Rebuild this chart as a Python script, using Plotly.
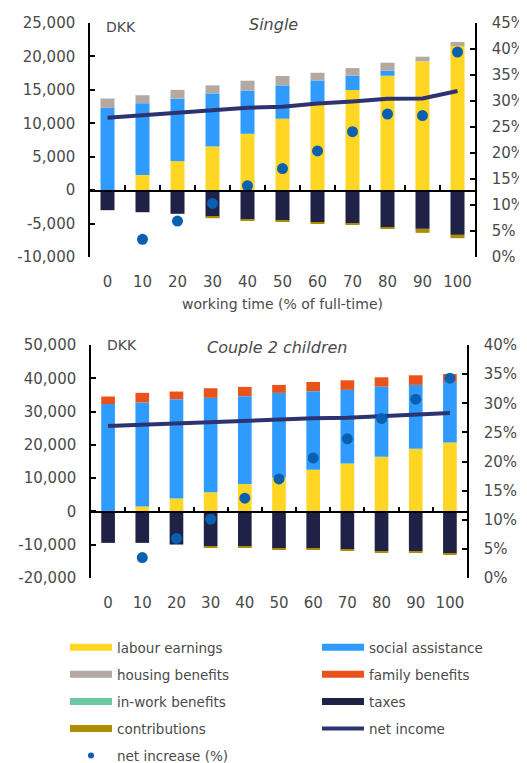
import plotly.graph_objects as go

# The page shows the figure offset by the browser's default 8px body margin,
# so the figure is sized to fit the 527x763 window from that offset.
OFF = 8
W, H = 527 - OFF, 763 - OFF

# ---------------- data ----------------
categories = ["0", "10", "20", "30", "40", "50", "60", "70", "80", "90", "100"]

single_labour = [0, 2250, 4340, 6540, 8430, 10680, 12900, 14970, 17110, 19260, 21560]
single_social = [12300, 10750, 9360, 7930, 6470, 4990, 3510, 2140, 750, 0, 0]
single_housing = [1400, 1200, 1300, 1200, 1470, 1400, 1150, 1150, 1200, 700, 600]
single_family = [0, 0, 0, 0, 0, 0, 0, 0, 0, 0, 0]
single_inwork = [0, 0, 0, 0, 0, 0, 0, 0, 0, 0, 0]
single_taxes = [-3000, -3300, -3540, -4000, -4390, -4540, -4790, -5000, -5590, -5790, -6690]
single_contrib = [0, 0, 0, -200, -150, -200, -200, -190, -200, -600, -500]
single_net_income = [10830, 11170, 11570, 11920, 12320, 12470, 12970, 13270, 13670, 13720, 14820]
single_net_increase = [None, 3.4, 6.9, 10.3, 13.7, 17.0, 20.4, 24.1, 27.5, 27.2, 39.4]

couple_labour = [0, 1490, 3880, 5770, 8260, 10150, 12540, 14430, 16420, 18810, 20700]
couple_social = [32240, 31250, 29850, 28360, 26370, 25470, 23580, 22090, 21090, 19200, 18200]
couple_housing = [0, 0, 0, 0, 0, 0, 0, 0, 0, 0, 0]
couple_family = [2290, 2880, 2290, 2880, 2780, 2390, 2780, 2880, 2790, 2890, 2390]
couple_inwork = [0, 0, 0, 0, 0, 0, 0, 0, 0, 0, 0]
couple_taxes = [-9450, -9450, -9950, -10450, -10550, -11140, -11240, -11540, -11940, -11940, -12540]
couple_contrib = [0, 0, 0, -400, -400, -400, -300, -300, -400, -400, -400]
couple_net_income = [25670, 26070, 26470, 26770, 27060, 27560, 27960, 28160, 28560, 29050, 29550]
couple_net_increase = [None, 3.5, 6.8, 10.1, 13.7, 17.0, 20.6, 23.9, 27.4, 30.7, 34.3]

top_left_ticks = [-10000, -5000, 0, 5000, 10000, 15000, 20000, 25000]
top_left_text = ["-10,000", "-5,000", "0", "5,000", "10,000", "15,000", "20,000", "25,000"]
top_right_ticks = [0, 5, 10, 15, 20, 25, 30, 35, 40, 45]
top_right_text = ["0%", "5%", "10%", "15%", "20%", "25%", "30%", "35%", "40%", "45%"]
bot_left_ticks = [-20000, -10000, 0, 10000, 20000, 30000, 40000, 50000]
bot_left_text = ["-20,000", "-10,000", "0", "10,000", "20,000", "30,000", "40,000", "50,000"]
bot_right_ticks = [0, 5, 10, 15, 20, 25, 30, 35, 40]
bot_right_text = ["0%", "5%", "10%", "15%", "20%", "25%", "30%", "35%", "40%"]

# ---------------- styles ----------------
C_LAB = "#FFD623"
C_SOC = "#2F9BFF"
C_HOU = "#B4A9A1"
C_FAM = "#E9531B"
C_INW = "#6CC7A4"
C_TAX = "#1F2246"
C_CON = "#AE8C00"
C_NET = "#2D3270"
C_DOT = "#0A60B0"
TXT = "#4a4a4a"
FONT = "DejaVu Sans"

def px_x(p):
    return (p - OFF) / W

def px_y(p):
    return 1 - (p - OFF) / H

top_xdom = [px_x(90), px_x(475)]
top_ydom = [px_y(257), px_y(23)]
bot_xdom = [px_x(91), px_x(467)]
bot_ydom = [px_y(578), px_y(345)]
TOP_RANGE = [-10000, 25000]
BOT_RANGE = [-20000, 50000]

fig = go.Figure()

def add_panel(xa, ya, ya2, yz, labour, social, housing, family, inwork, taxes, contrib, net, inc):
    comps = [
        (labour, C_LAB), (social, C_SOC), (housing, C_HOU), (family, C_FAM),
        (inwork, C_INW), (taxes, C_TAX), (contrib, C_CON),
    ]
    for vals, col in comps:
        fig.add_trace(go.Bar(x=categories, y=vals, marker=dict(color=col, line=dict(width=0)),
                             xaxis=xa, yaxis=ya, showlegend=False, hoverinfo="skip"))
    fig.add_trace(go.Scatter(x=categories, y=net, mode="lines",
                             line=dict(color=C_NET, width=4), xaxis=xa, yaxis=ya,
                             showlegend=False, hoverinfo="skip"))
    fig.add_trace(go.Scatter(x=categories, y=inc, mode="markers",
                             marker=dict(color=C_DOT, size=11), xaxis=xa, yaxis=ya2,
                             showlegend=False, hoverinfo="skip"))
    # empty carrier so the category axis has a subplot whose lower edge is the zero level
    fig.add_trace(go.Scatter(x=categories, y=[None] * len(categories), mode="lines",
                             xaxis=xa, yaxis=yz, showlegend=False, hoverinfo="skip"))

add_panel("x", "y", "y2", "y5", single_labour, single_social, single_housing, single_family,
          single_inwork, single_taxes, single_contrib, single_net_income, single_net_increase)
add_panel("x2", "y3", "y4", "y6", couple_labour, couple_social, couple_housing, couple_family,
          couple_inwork, couple_taxes, couple_contrib, couple_net_income, couple_net_increase)

# legend-only entries
left_items = [("labour earnings", C_LAB), ("housing benefits", C_HOU),
              ("in-work benefits", C_INW), ("contributions", C_CON)]
right_items = [("social assistance", C_SOC), ("family benefits", C_FAM), ("taxes", C_TAX)]
for i, (name, col) in enumerate(left_items):
    fig.add_trace(go.Scatter(x=[None], y=[None], mode="lines", name=name,
                             line=dict(color=col, width=7), legend="legend",
                             legendgroup="L%d" % i, xaxis="x", yaxis="y"))
fig.add_trace(go.Scatter(x=[None], y=[None], mode="markers", name="net increase (%)",
                         marker=dict(color=C_DOT, size=6), legend="legend",
                         legendgroup="L9", xaxis="x", yaxis="y"))
for i, (name, col) in enumerate(right_items):
    fig.add_trace(go.Scatter(x=[None], y=[None], mode="lines", name=name,
                             line=dict(color=col, width=7), legend="legend2",
                             legendgroup="R%d" % i, xaxis="x", yaxis="y"))
fig.add_trace(go.Scatter(x=[None], y=[None], mode="lines", name="net income",
                         line=dict(color=C_NET, width=4), legend="legend2",
                         legendgroup="R9", xaxis="x", yaxis="y"))

tickfont = dict(family=FONT, size=15, color=TXT)

def zero_pos(ydom, rng):
    lo, hi = rng
    return ydom[0] + (0 - lo) / (hi - lo) * (ydom[1] - ydom[0])

def xax(anchor, **kw):
    d = dict(type="category", categoryorder="array", categoryarray=categories,
             range=[-0.5, 10.5], showgrid=False, zeroline=False,
             anchor=anchor,
             showline=True, linecolor="black", linewidth=1.5,
             ticks="inside", tickson="boundaries", ticklen=5, tickcolor="black",
             tickwidth=1.5, tickfont=tickfont, ticklabelstandoff=77, tickangle=0,
             automargin=False, fixedrange=True)
    d.update(kw)
    return d

def yax(**kw):
    d = dict(showgrid=False, zeroline=False,
             showline=True, linecolor="black",
             linewidth=1.5, ticks="inside", ticklen=5, tickcolor="black", tickwidth=1.5,
             tickfont=tickfont, ticklabelstandoff=10, automargin=False, tickmode="array")
    d.update(kw)
    return d

# hidden helper axes whose lower edge sits at the zero level, to carry the category axis line
def helper_y(ydom, rng, xa):
    return dict(domain=[zero_pos(ydom, rng), ydom[1]], anchor=xa, visible=False,
                range=[0, 1], fixedrange=True)

legfont = dict(family=FONT, size=13.5, color=TXT)

fig.update_layout(
    width=W, height=H,
    margin=dict(l=0, r=0, t=0, b=0, autoexpand=False),
    paper_bgcolor="white", plot_bgcolor="rgba(0,0,0,0)",
    barmode="relative", bargap=0.6,
    font=dict(family=FONT, color=TXT, size=14),
    xaxis=xax("y5", domain=top_xdom,
              title=dict(text="working time (% of full-time)", standoff=9,
                         font=dict(family=FONT, size=14, color=TXT))),
    xaxis2=xax("y6", domain=bot_xdom),
    yaxis=yax(domain=top_ydom, anchor="x", range=TOP_RANGE,
              tickvals=top_left_ticks, ticktext=top_left_text),
    yaxis2=yax(overlaying="y", anchor="x", side="right", range=[0, 45],
               tickvals=top_right_ticks, ticktext=top_right_text, ticklabelstandoff=12),
    yaxis3=yax(domain=bot_ydom, anchor="x2", range=BOT_RANGE,
               tickvals=bot_left_ticks, ticktext=bot_left_text),
    yaxis4=yax(overlaying="y3", anchor="x2", side="right", range=[0, 40],
               tickvals=bot_right_ticks, ticktext=bot_right_text, ticklabelstandoff=12),
    yaxis5=helper_y(top_ydom, TOP_RANGE, "x"),
    yaxis6=helper_y(bot_ydom, BOT_RANGE, "x2"),
    legend=dict(x=px_x(65), y=px_y(632), xanchor="left", yanchor="top",
                orientation="v", tracegroupgap=6.5, itemwidth=42,
                font=legfont, bgcolor="rgba(0,0,0,0)"),
    legend2=dict(x=px_x(317), y=px_y(632), xanchor="left", yanchor="top",
                 orientation="v", tracegroupgap=6.5, itemwidth=42,
                 font=legfont, bgcolor="rgba(0,0,0,0)"),
    annotations=[
        dict(text="DKK", x=px_x(104), y=px_y(27), xref="paper", yref="paper",
             xanchor="left", yanchor="middle", showarrow=False,
             font=dict(family=FONT, size=14, color=TXT)),
        dict(text="<i>Single</i>", x=px_x(273), y=px_y(25), xref="paper", yref="paper",
             xanchor="center", yanchor="middle", showarrow=False,
             font=dict(family=FONT, size=16, color=TXT)),
        dict(text="DKK", x=px_x(105), y=px_y(345), xref="paper", yref="paper",
             xanchor="left", yanchor="middle", showarrow=False,
             font=dict(family=FONT, size=14, color=TXT)),
        dict(text="<i>Couple 2 children</i>", x=px_x(277), y=px_y(347), xref="paper", yref="paper",
             xanchor="center", yanchor="middle", showarrow=False,
             font=dict(family=FONT, size=16, color=TXT)),
    ],
)

fig.write_html("out.html")
